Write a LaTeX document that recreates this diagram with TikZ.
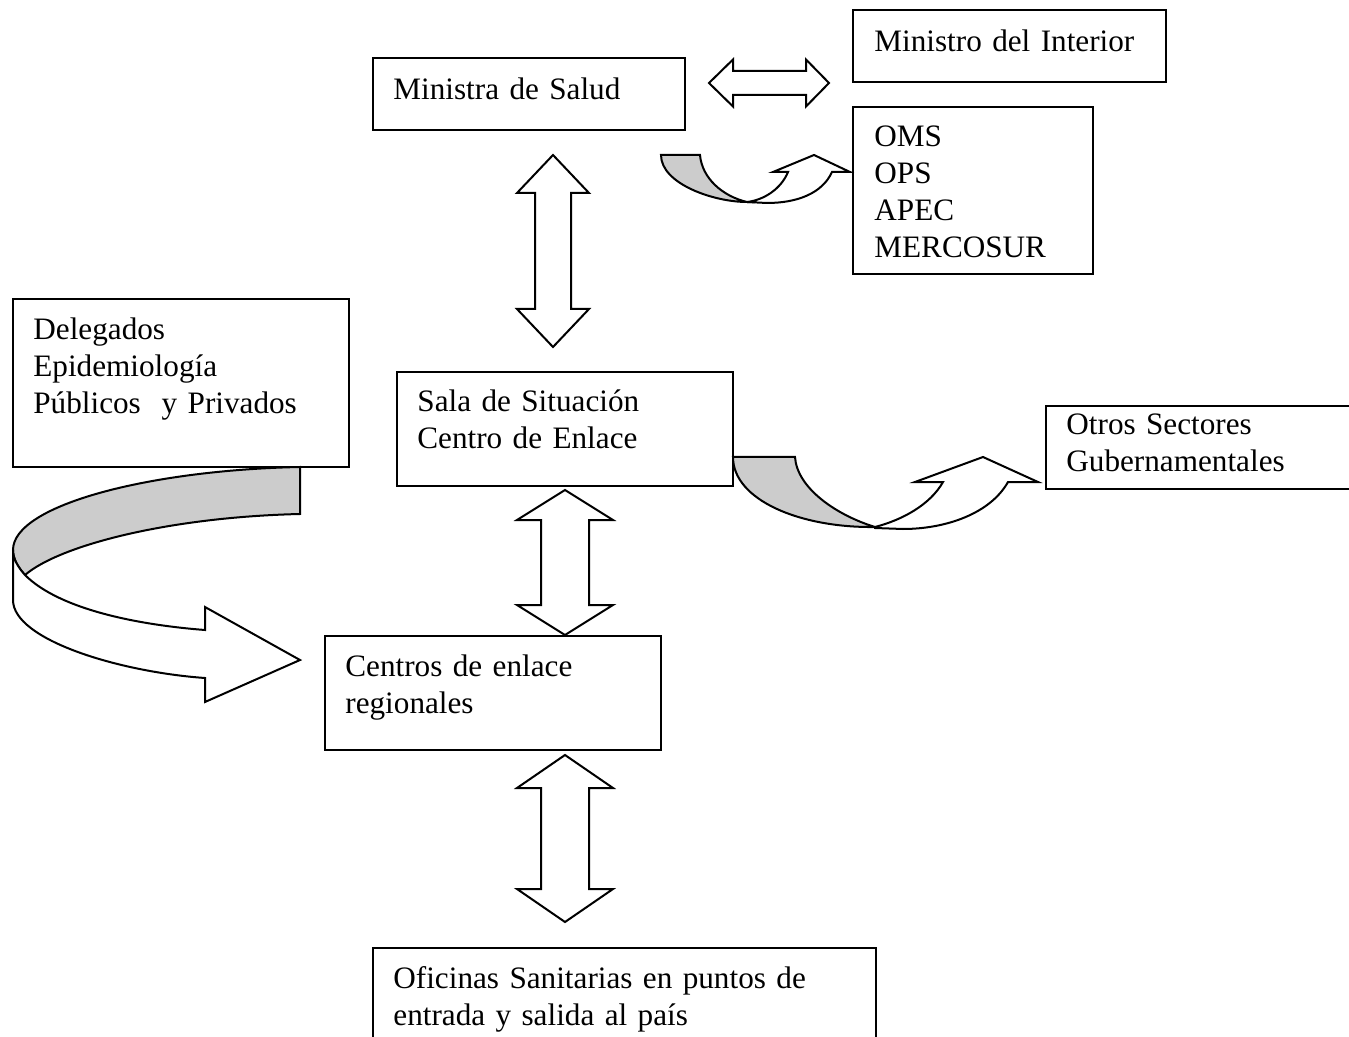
\documentclass[tikz,border=0pt]{standalone}
\usepackage{fontspec}
\setmainfont{Liberation Serif}
\usetikzlibrary{fit}
\definecolor{ribbon}{gray}{0.8}
\begin{document}
\begin{tikzpicture}[x=0.5pt,y=-0.5pt,
  box/.style={draw, line width=1pt, inner sep=0pt},
  txt/.style={anchor=base west, inner sep=0pt, align=left, text width=220pt,
    font=\fontsize{15.6}{18.5}\selectfont},
  blockarrow/.style={draw, line width=1pt, fill=white, line join=miter},
  ribbonback/.style={draw, line width=1pt, fill=ribbon},
  ribbonfront/.style={draw, line width=1pt, fill=white}]
\useasboundingbox (0,0) rectangle (1349,1037);
\clip (0,0) rectangle (1349,1037);

% boxes
\node[box, fit={(373,58) (685,130)}] (ms) {};
\node[box, fit={(853,10) (1166,82)}] (mi) {};
\node[box, fit={(853,107) (1093,274)}] (org) {};
\node[box, fit={(13,299) (349,467)}] (del) {};
\node[box, fit={(397,372) (733,486)}] (sala) {};
\node[box, fit={(1046,406) (1370,489)}] (otros) {};
\node[box, fit={(325,636) (661,750)}] (cer) {};
\node[box, fit={(373,948) (876,1060)}] (ofi) {};

% texts
\node[txt] (mstxt) at (393,100) {Ministra de Salud};
\node[txt] (mitxt) at (874,52) {Ministro del Interior};
\node[txt] (orgtxt) at (874,147) {OMS\\OPS\\APEC\\MERCOSUR};
\node[txt] (deltxt) at (33,340) {Delegados\\Epidemiología\\Públicos\ \ y Privados};
\node[txt] (salatxt) at (417,412) {Sala de Situación\\Centro de Enlace};
\node[txt] (otrostxt) at (1066,435) {Otros Sectores\\Gubernamentales};
\node[txt] (certxt) at (345,676) {Centros de enlace\\regionales};
\node[txt] (ofitxt) at (393,988) {Oficinas Sanitarias en puntos de\\entrada y salida al país};

% double block arrows
\draw[blockarrow] (709,83) -- (733,59.5) -- (733,71) -- (806,71) -- (806,59.5) -- (829,83)
  -- (806,106.5) -- (806,95) -- (733,95) -- (733,106.5) -- cycle;
\draw[blockarrow] (553,155) -- (589,193) -- (571,193) -- (571,309) -- (589,309) -- (553,347)
  -- (517,309) -- (535,309) -- (535,193) -- (517,193) -- cycle;
\draw[blockarrow] (565,490) -- (613,520) -- (589,520) -- (589,605) -- (613,605) -- (565,635)
  -- (517,605) -- (541,605) -- (541,520) -- (517,520) -- cycle;
\draw[blockarrow] (565,755) -- (613,788) -- (589,788) -- (589,889) -- (613,889) -- (565,922)
  -- (517,889) -- (541,889) -- (541,788) -- (517,788) -- cycle;

% small curved arrow (Ministra -> OMS)
\draw[ribbonback] (661,155) -- (700,155) .. controls (702,178) and (722,196) .. (747,202)
  .. controls (714,202) and (661,184) .. (661,155) -- cycle;
\draw[ribbonfront] (747,202) .. controls (764,200) and (781,189) .. (788,172)
  -- (773,172) -- (814,155) -- (850,172) -- (832,172)
  .. controls (822,194) and (796,203) .. (767,203) -- cycle;

% large curved arrow (Sala -> Otros)
\draw[ribbonback] (733,457) -- (795,457) .. controls (797,488) and (836,515) .. (875,527)
  .. controls (800,528) and (733,500) .. (733,457) -- cycle;
\draw[ribbonfront] (875,527) .. controls (902,520) and (930,505) .. (943,482)
  -- (915,482) -- (983,457) -- (1038,482) -- (1008,482)
  .. controls (990,514) and (945,529) .. (903,529) -- (875,528) -- cycle;

% left curved arrow (Delegados -> Centros)
\draw[ribbonback] (300,467) -- (300,514) .. controls (170,517) and (60,545) .. (25,575)
  .. controls (17,566) and (13,558) .. (13,550)
  .. controls (13,505) and (150,470) .. (300,467) -- cycle;
\draw[ribbonfront] (13,550) -- (13,600) .. controls (13,640) and (120,672) .. (205,678)
  -- (205,702) -- (300,660) -- (205,607) -- (205,630)
  .. controls (140,625) and (60,610) .. (25,575)
  .. controls (17,566) and (13,558) .. (13,550) -- cycle;
\end{tikzpicture}
\end{document}
